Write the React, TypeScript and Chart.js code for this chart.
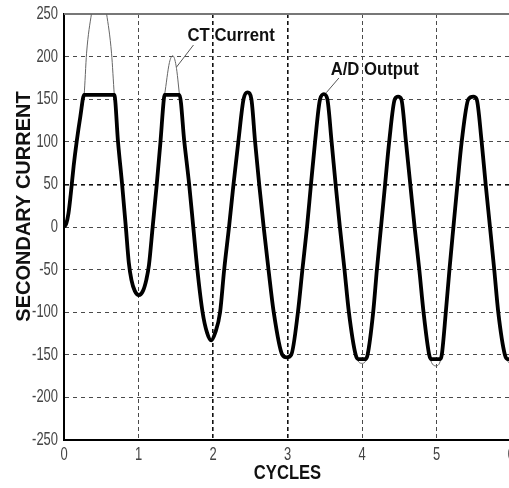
import React, { useEffect, useRef } from 'react';
import { Chart, registerables } from 'chart.js';

Chart.register(...registerables);

// ---- data ----
const cycleTicks = [0, 1, 2, 3, 4, 5, 6];
const currentTicks = [-250, -200, -150, -100, -50, 0, 50, 100, 150, 200, 250];

// A/D output (clipped)
const adCycles = [
  0.0, 0.03, 0.06, 0.09, 0.13, 0.17, 0.22, 0.27, 0.675, 0.725, 0.78, 0.83, 0.87, 0.905, 0.95, 1.005,
  1.06, 1.105, 1.14, 1.19, 1.245, 1.295, 1.34, 1.35, 1.55, 1.615, 1.68, 1.735, 1.79, 1.86, 1.92, 1.975,
  2.03, 2.095, 2.15, 2.215, 2.275, 2.34, 2.41, 2.464, 2.515, 2.565, 2.62, 2.68, 2.745, 2.815, 2.93, 2.99,
  3.05, 3.14, 3.2, 3.262, 3.315, 3.37, 3.437, 3.489, 3.535, 3.592, 3.646, 3.703, 3.765, 3.824, 3.915, 3.95,
  4.045, 4.075, 4.15, 4.2, 4.255, 4.31, 4.365, 4.44, 4.485, 4.528, 4.59, 4.648, 4.706, 4.769, 4.826, 4.902,
  4.93, 5.05, 5.071, 5.125, 5.174, 5.227, 5.281, 5.338, 5.428, 5.495, 5.539, 5.606, 5.66, 5.718, 5.775, 5.829,
  5.918, 5.955, 6.0,
];
const adValues = [
  0, 4, 16, 38, 72, 100, 130, 155, 155, 100, 50, 0, -42, -62, -75, -80,
  -75, -62, -45, 0, 50, 100, 150, 155, 155, 100, 50, 0, -50, -100, -124, -133,
  -124, -100, -50, 0, 50, 100, 150, 158, 150, 100, 50, 0, -50, -100, -150, -153,
  -150, -100, -50, 0, 50, 100, 150, 156, 150, 100, 50, 0, -50, -100, -150, -155,
  -155, -150, -100, -50, 0, 50, 100, 150, 153, 150, 100, 50, 0, -50, -100, -150,
  -155, -155, -150, -100, -50, 0, 50, 100, 150, 153, 150, 100, 50, 0, -50, -100,
  -150, -155, -155,
];

// CT current (true secondary current)
const ctCycles = [
  0.0, 0.03, 0.06, 0.09, 0.13, 0.17, 0.22, 0.27, 0.303, 0.37, 0.42, 0.47, 0.52, 0.57, 0.638, 0.675,
  0.725, 0.78, 0.83, 0.87, 0.905, 0.95, 1.005, 1.06, 1.105, 1.14, 1.19, 1.245, 1.295, 1.34, 1.35, 1.415,
  1.46, 1.505, 1.55, 1.615, 1.68, 1.735, 1.79, 1.86, 1.92, 1.975, 2.03, 2.095, 2.15, 2.215, 2.275, 2.34,
  2.41, 2.464, 2.515, 2.565, 2.62, 2.68, 2.745, 2.815, 2.93, 2.99, 3.05, 3.14, 3.2, 3.262, 3.315, 3.37,
  3.437, 3.489, 3.535, 3.592, 3.646, 3.703, 3.765, 3.824, 3.915, 4.0, 4.075, 4.15, 4.2, 4.255, 4.31, 4.365,
  4.44, 4.485, 4.528, 4.59, 4.648, 4.706, 4.769, 4.826, 4.902, 4.99, 5.071, 5.125, 5.174, 5.227, 5.281, 5.338,
  5.428, 5.495, 5.539, 5.606, 5.66, 5.718, 5.775, 5.829, 5.918, 6.0,
];
const ctValues = [
  0, 4, 16, 38, 72, 100, 130, 155, 204, 251, 274, 282, 274, 251, 204, 155,
  100, 50, 0, -42, -62, -75, -80, -75, -62, -45, 0, 50, 100, 150, 155, 193,
  201, 189, 155, 100, 50, 0, -50, -100, -124, -133, -124, -100, -50, 0, 50, 100,
  150, 158, 150, 100, 50, 0, -50, -100, -150, -153, -150, -100, -50, 0, 50, 100,
  150, 156, 150, 100, 50, 0, -50, -100, -150, -160, -150, -100, -50, 0, 50, 100,
  150, 153, 150, 100, 50, 0, -50, -100, -150, -163, -150, -100, -50, 0, 50, 100,
  150, 153, 150, 100, 50, 0, -50, -100, -150, -162,
];

// annotations (in data units)
const noteTexts = ['CT Current', 'A/D Output'];
const noteCycles = [1.658, 3.579];
const noteValues = [225, 185];
const leaderFrom = [[1.738, 213.6], [3.69, 174.9]];
const leaderTo = [[1.511, 187.8], [3.52, 157.6]];

const xTitle = 'CYCLES';
const yTitle = 'SECONDARY CURRENT';

const FONT = "'Liberation Sans', Arial, sans-serif";

function squeezedText(
  ctx: CanvasRenderingContext2D,
  text: string,
  x: number,
  y: number,
  font: string,
  sx: number,
  align: CanvasTextAlign,
) {
  ctx.save();
  ctx.translate(x, y);
  ctx.scale(sx, 1);
  ctx.font = font;
  ctx.textAlign = align;
  ctx.textBaseline = 'middle';
  ctx.fillText(text, 0, 0);
  ctx.restore();
}

const overlayPlugin = {
  id: 'overlay',
  beforeDatasetsDraw(chart: any) {
    const { ctx, chartArea } = chart;
    ctx.save();
    ctx.strokeStyle = '#777';
    ctx.lineWidth = 2;
    ctx.beginPath();
    ctx.moveTo(chartArea.left, chartArea.top);
    ctx.lineTo(chartArea.right, chartArea.top);
    ctx.stroke();
    ctx.restore();
  },
  afterDatasetsDraw(chart: any) {
    const { ctx, scales, chartArea } = chart;
    const x = scales.x;
    const y = scales.y;
    ctx.save();
    ctx.strokeStyle = '#555';
    ctx.lineWidth = 1;
    for (let i = 0; i < leaderFrom.length; i++) {
      ctx.beginPath();
      ctx.moveTo(x.getPixelForValue(leaderFrom[i][0]), y.getPixelForValue(leaderFrom[i][1]));
      ctx.lineTo(x.getPixelForValue(leaderTo[i][0]), y.getPixelForValue(leaderTo[i][1]));
      ctx.stroke();
    }
    ctx.fillStyle = '#111';
    for (let i = 0; i < noteTexts.length; i++) {
      squeezedText(
        ctx,
        noteTexts[i],
        x.getPixelForValue(noteCycles[i]),
        y.getPixelForValue(noteValues[i]),
        `bold 19px ${FONT}`,
        0.88,
        'left',
      );
    }
    // tick labels
    ctx.fillStyle = '#444';
    cycleTicks.forEach((v) => {
      squeezedText(ctx, String(v), x.getPixelForValue(v), chartArea.bottom + 15, `18px ${FONT}`, 0.72, 'center');
    });
    currentTicks.forEach((v) => {
      squeezedText(ctx, String(v), chartArea.left - 6, y.getPixelForValue(v), `18px ${FONT}`, 0.72, 'right');
    });
    // axis titles
    ctx.fillStyle = '#111';
    squeezedText(ctx, xTitle, (chartArea.left + chartArea.right) / 2, 473, `bold 20px ${FONT}`, 0.83, 'center');
    ctx.translate(24.5, 206.5);
    ctx.rotate(-Math.PI / 2);
    ctx.textAlign = 'center';
    ctx.textBaseline = 'middle';
    ctx.font = `bold 20px ${FONT}`;
    ctx.fillText(yTitle, 0, 0);
    ctx.restore();
  },
};

const emphX = [2, 3];
const emphY = [50];

export default function App() {
  const ref = useRef<HTMLCanvasElement | null>(null);

  useEffect(() => {
    if (!ref.current) return;
    const chart = new Chart(ref.current, {
      type: 'line',
      data: {
        datasets: [
          {
            label: 'A/D Output',
            data: adCycles.map((c, i) => ({ x: c, y: adValues[i] })),
            borderColor: '#000',
            borderWidth: 3.8,
            pointRadius: 0,
            cubicInterpolationMode: 'monotone',
            fill: false,
          },
          {
            label: 'CT Current',
            data: ctCycles.map((c, i) => ({ x: c, y: ctValues[i] })),
            borderColor: '#666',
            borderWidth: 1,
            pointRadius: 0,
            cubicInterpolationMode: 'monotone',
            fill: false,
          },
        ],
      },
      options: {
        responsive: false,
        animation: false,
        devicePixelRatio: 1,
        layout: { padding: { top: 14, right: 29, left: 0, bottom: 0 } },
        plugins: {
          legend: { display: false },
          tooltip: { enabled: false },
        },
        scales: {
          x: {
            type: 'linear',
            min: 0,
            max: 6,
            afterFit: (s: any) => {
              s.height = 48;
            },
            afterBuildTicks: (s: any) => {
              s.ticks = cycleTicks.map((v) => ({ value: v }));
            },
            ticks: { display: false },
            grid: {
              drawTicks: false,
              color: (c: any) => (c.tick && emphX.includes(c.tick.value) ? '#111' : '#4a4a4a'),
              lineWidth: (c: any) => (c.tick && emphX.includes(c.tick.value) ? 1.6 : 1),
            },
            border: { display: true, color: '#000', width: 2, dash: [4, 3] },
          },
          y: {
            type: 'linear',
            min: -250,
            max: 250,
            afterFit: (s: any) => {
              s.width = 64;
            },
            afterBuildTicks: (s: any) => {
              s.ticks = currentTicks.map((v) => ({ value: v }));
            },
            ticks: { display: false },
            grid: {
              drawTicks: false,
              color: (c: any) => (c.tick && emphY.includes(c.tick.value) ? '#111' : '#4a4a4a'),
              lineWidth: (c: any) => (c.tick && emphY.includes(c.tick.value) ? 1.6 : 1),
            },
            border: { display: true, color: '#000', width: 2, dash: [4, 4] },
          },
        },
      },
      plugins: [overlayPlugin],
    } as any);
    return () => chart.destroy();
  }, []);

  return (
    <div
      style={{
        position: 'fixed',
        left: 0,
        top: 0,
        width: 509,
        height: 488,
        overflow: 'hidden',
        background: '#fff',
      }}
    >
      <canvas ref={ref} width={540} height={488} style={{ display: 'block', width: 540, height: 488 }} />
    </div>
  );
}
